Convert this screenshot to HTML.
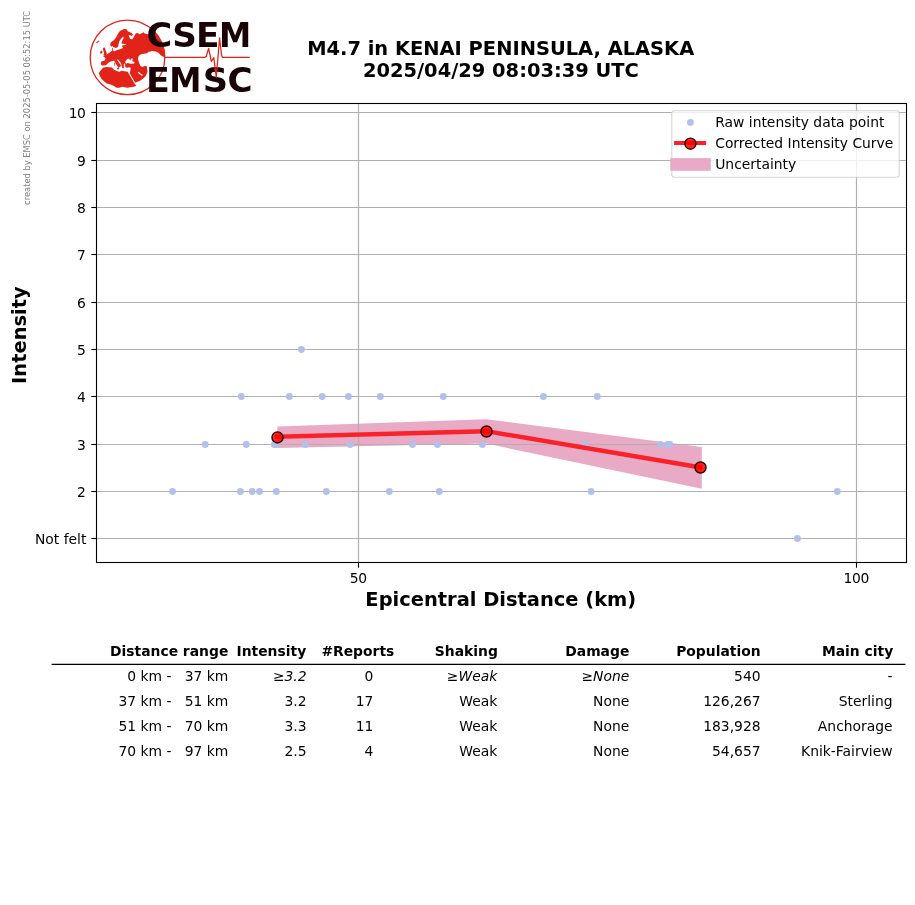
<!DOCTYPE html>
<html lang="en"><head><meta charset="utf-8"><title>M4.7 in KENAI PENINSULA, ALASKA</title>
<style>
html,body{margin:0;padding:0;background:#fff;}
body{width:915px;height:905px;overflow:hidden;}
svg{display:block;will-change:transform;}
text{font-family:"DejaVu Sans","Liberation Sans",sans-serif;fill:#000;}
.t{font-size:13.89px;white-space:pre;}
.b{font-weight:bold;}
.big{font-size:19.44px;font-weight:bold;}
.logo text{font-family:"DejaVu Sans","Liberation Sans",sans-serif;font-weight:bold;font-size:34.2px;fill:#1a0306;}
</style></head><body>
<svg width="915" height="905" viewBox="0 0 915 905">
<rect width="915" height="905" fill="#fff"/>

<polygon points="277.4,426.4 486.3,419.2 701.8,447.1 701.8,488.8 486.3,443.6 277.4,448.0" fill="#e8aac4"/>
<g stroke="#b0b0b0" stroke-width="1.2" fill="none">
<line x1="96.5" y1="538.5" x2="906.5" y2="538.5"/>
<line x1="96.5" y1="491.5" x2="906.5" y2="491.5"/>
<line x1="96.5" y1="444.5" x2="906.5" y2="444.5"/>
<line x1="96.5" y1="396.5" x2="906.5" y2="396.5"/>
<line x1="96.5" y1="349.5" x2="906.5" y2="349.5"/>
<line x1="96.5" y1="302.5" x2="906.5" y2="302.5"/>
<line x1="96.5" y1="254.5" x2="906.5" y2="254.5"/>
<line x1="96.5" y1="207.5" x2="906.5" y2="207.5"/>
<line x1="96.5" y1="160.5" x2="906.5" y2="160.5"/>
<line x1="96.5" y1="112.5" x2="906.5" y2="112.5"/>
<line x1="358.5" y1="103.5" x2="358.5" y2="562.5"/>
<line x1="856.5" y1="103.5" x2="856.5" y2="562.5"/>
</g>
<g fill="#b3c0ea">
<circle cx="301.4" cy="349.5" r="3.45"/>
<circle cx="241.3" cy="396.5" r="3.45"/>
<circle cx="289.4" cy="396.5" r="3.45"/>
<circle cx="322.2" cy="396.5" r="3.45"/>
<circle cx="348.4" cy="396.5" r="3.45"/>
<circle cx="380.3" cy="396.5" r="3.45"/>
<circle cx="443.3" cy="396.5" r="3.45"/>
<circle cx="543.4" cy="396.5" r="3.45"/>
<circle cx="597.3" cy="396.5" r="3.45"/>
<circle cx="205.2" cy="444.5" r="3.45"/>
<circle cx="246.3" cy="444.5" r="3.45"/>
<circle cx="274.4" cy="444.5" r="3.45"/>
<circle cx="276.0" cy="444.5" r="3.45"/>
<circle cx="305.4" cy="444.5" r="3.45"/>
<circle cx="350.2" cy="444.5" r="3.45"/>
<circle cx="412.5" cy="444.5" r="3.45"/>
<circle cx="437.4" cy="444.5" r="3.45"/>
<circle cx="482.4" cy="444.5" r="3.45"/>
<circle cx="585.2" cy="444.5" r="3.45"/>
<circle cx="660.4" cy="444.5" r="3.45"/>
<circle cx="667.6" cy="444.5" r="3.45"/>
<circle cx="669.9" cy="444.5" r="3.45"/>
<circle cx="172.5" cy="491.5" r="3.45"/>
<circle cx="240.4" cy="491.5" r="3.45"/>
<circle cx="252.2" cy="491.5" r="3.45"/>
<circle cx="259.5" cy="491.5" r="3.45"/>
<circle cx="276.3" cy="491.5" r="3.45"/>
<circle cx="326.3" cy="491.5" r="3.45"/>
<circle cx="389.3" cy="491.5" r="3.45"/>
<circle cx="439.3" cy="491.5" r="3.45"/>
<circle cx="591.1" cy="491.5" r="3.45"/>
<circle cx="837.3" cy="491.5" r="3.45"/>
<circle cx="797.4" cy="538.5" r="3.45"/>
</g>
<polyline points="277.4,436.7 486.4,431.2 700.4,467.4" fill="none" stroke="#fa2228" stroke-width="4.4" stroke-linejoin="round" stroke-linecap="square"/>
<g fill="#ff0000" fill-opacity="0.86" stroke="#260808" stroke-width="1.39">
<circle cx="277.5" cy="437.4" r="5.55"/>
<circle cx="486.5" cy="431.5" r="5.55"/>
<circle cx="700.5" cy="467.5" r="5.55"/>
</g>
<rect x="96.5" y="103.5" width="810.0" height="459.0" fill="none" stroke="#000" stroke-width="1.1"/>
<g stroke="#000" stroke-width="1.1">
<line x1="91.3" y1="538.5" x2="96.5" y2="538.5"/>
<line x1="91.3" y1="491.5" x2="96.5" y2="491.5"/>
<line x1="91.3" y1="444.5" x2="96.5" y2="444.5"/>
<line x1="91.3" y1="396.5" x2="96.5" y2="396.5"/>
<line x1="91.3" y1="349.5" x2="96.5" y2="349.5"/>
<line x1="91.3" y1="302.5" x2="96.5" y2="302.5"/>
<line x1="91.3" y1="254.5" x2="96.5" y2="254.5"/>
<line x1="91.3" y1="207.5" x2="96.5" y2="207.5"/>
<line x1="91.3" y1="160.5" x2="96.5" y2="160.5"/>
<line x1="91.3" y1="112.5" x2="96.5" y2="112.5"/>
<line x1="358.5" y1="562.5" x2="358.5" y2="567.7"/>
<line x1="856.5" y1="562.5" x2="856.5" y2="567.7"/>
</g>
<g class="t" text-anchor="end">
<text x="85.3" y="496.5" style="letter-spacing:-0.5px">2</text>
<text x="85.3" y="449.5" style="letter-spacing:-0.5px">3</text>
<text x="85.3" y="401.5" style="letter-spacing:-0.5px">4</text>
<text x="85.3" y="354.5" style="letter-spacing:-0.5px">5</text>
<text x="85.3" y="307.5" style="letter-spacing:-0.5px">6</text>
<text x="85.3" y="259.5" style="letter-spacing:-0.5px">7</text>
<text x="85.3" y="212.5" style="letter-spacing:-0.5px">8</text>
<text x="85.3" y="165.5" style="letter-spacing:-0.5px">9</text>
<text x="85.3" y="117.5" style="letter-spacing:-0.5px">10</text>
<text x="86.4" y="543.5">Not felt</text>
</g>
<g class="t" text-anchor="middle">
<text x="358.2" y="582.9" style="letter-spacing:-0.4px">50</text><text x="856.2" y="582.9" style="letter-spacing:-0.4px">100</text>
</g>
<text class="big" text-anchor="middle" x="500.8" y="606.3">Epicentral Distance (km)</text>
<text class="big" text-anchor="middle" transform="translate(26.3,335.1) rotate(-90)">Intensity</text>
<text class="big" text-anchor="middle" x="500.7" y="55.1">M4.7 in KENAI PENINSULA, ALASKA</text>
<text class="big" text-anchor="middle" x="500.9" y="77.2">2025/04/29 08:03:39 UTC</text>
<text transform="translate(29.9,204.9) rotate(-90)" style="font-size:8.33px;fill:#808080">created by EMSC on 2025-05-05 06:52:15 UTC</text>
<!--LEGEND-->
<rect x="671.8" y="110.8" width="227.4" height="66.4" rx="2.7" ry="2.7" fill="#fff" fill-opacity="0.8" stroke="#ccc" stroke-opacity="0.8" stroke-width="1.1"/>
<circle cx="690.4" cy="122.4" r="3.4" fill="#b3c0ea"/>
<line x1="674.1" y1="143.1" x2="706.1" y2="143.1" stroke="#fa2228" stroke-width="4"/>
<circle cx="690.4" cy="143.7" r="5.55" fill="#ff0000" fill-opacity="0.86" stroke="#260808" stroke-width="1.39"/>
<rect x="670.3" y="158.1" width="40.5" height="12.7" fill="#e8aac4"/>
<g class="t"><text x="715.2" y="127.2">Raw intensity data point</text><text x="715.2" y="148.2">Corrected Intensity Curve</text><text x="715.2" y="168.8">Uncertainty</text></g>
<!--TABLE-->
<line x1="51.6" y1="664.35" x2="905.5" y2="664.35" stroke="#000" stroke-width="1.3"/>
<g class="t b" text-anchor="end">
<text x="228.3" y="656.2">Distance range</text>
<text x="306.2" y="656.2">Intensity</text>
<text x="394.3" y="656.2">#Reports</text>
<text x="497.9" y="656.2">Shaking</text>
<text x="629.3" y="656.2">Damage</text>
<text x="760.6" y="656.2">Population</text>
<text x="893.2" y="656.2">Main city</text>
</g>
<g class="t" text-anchor="end">
<text x="228.3" y="681.0">0 km -   37 km</text>
<text x="306.6" y="681.0"><tspan>≥</tspan><tspan font-style="italic">3.2</tspan></text>
<text x="373.4" y="681.0">0</text>
<text x="497.3" y="681.0"><tspan>≥</tspan><tspan font-style="italic">Weak</tspan></text>
<text x="629.3" y="681.0"><tspan>≥</tspan><tspan font-style="italic">None</tspan></text>
<text x="760.6" y="681.0">540</text>
<text x="892.6" y="681.0">-</text>
<text x="228.3" y="706.0">37 km -   51 km</text>
<text x="306.6" y="706.0">3.2</text>
<text x="373.4" y="706.0">17</text>
<text x="497.3" y="706.0">Weak</text>
<text x="629.3" y="706.0">None</text>
<text x="760.6" y="706.0">126,267</text>
<text x="892.6" y="706.0">Sterling</text>
<text x="228.3" y="731.0">51 km -   70 km</text>
<text x="306.6" y="731.0">3.3</text>
<text x="373.4" y="731.0">11</text>
<text x="497.3" y="731.0">Weak</text>
<text x="629.3" y="731.0">None</text>
<text x="760.6" y="731.0">183,928</text>
<text x="892.6" y="731.0">Anchorage</text>
<text x="228.3" y="756.0">70 km -   97 km</text>
<text x="306.6" y="756.0">2.5</text>
<text x="373.4" y="756.0">4</text>
<text x="497.3" y="756.0">Weak</text>
<text x="629.3" y="756.0">None</text>
<text x="760.6" y="756.0">54,657</text>
<text x="892.6" y="756.0">Knik-Fairview</text>
</g>
<g id="logo">
<defs><clipPath id="globe"><circle cx="127.5" cy="57.4" r="37.3"/></clipPath></defs>
<g clip-path="url(#globe)" fill="#e2231a" stroke="none">
<!-- Eurasia -->
<path d="M123.9,28.9 L126.5,29.3 127.8,31.2 131.7,32.9 133,34.5 131.9,35.9 129.5,35 128.7,35.6 130.2,38.9 132.4,39.2 134.3,36.1 135.7,33.5 137.6,32.9 139.6,34.2 143.5,32.2 144.8,33.5 147.5,34.2 152,35 157,32 167,44 167,57 163.2,56.8 160.7,55.3 158.8,52.9 155.8,51.4 152,50.9 148.4,51.9 147,53.3 144,53.8 140.5,54.6 138.6,56 138,59 138.8,62 140.3,65.7 142.2,67.1 144.8,66.1 146.8,66.3 147.5,71.7 146.8,73.6 145.5,76.3 143.5,78.2 139.6,80.9 135,82.8 134.6,81.8 129.7,73.3 130.4,70.4 130.7,67.7 129.5,67.3 127,67.8 125.3,67.2 125.1,64.2 124.3,63.4 123.8,64 123.9,68 122.6,68.6 121.6,66 121.2,63.8 119.6,61.2 117.7,59.2 117.1,59.4 118.3,61.8 120.4,64.6 121.1,66.3 119.5,66.8 118.8,68 117.6,66.6 115.6,63.4 114.2,60.4 112.7,61 110.7,61.4 108.4,62.8 107,64.3 105.6,65.2 102.2,65.5 100.9,64.5 100.9,61.8 101.6,61.4 104.8,60.5 105.5,58.6 104.9,57.5 103.3,56.6 103.6,55.8 106.8,54.6 109,53 111.4,51.2 112.2,50.8 112.3,48 113,48 113.2,51 114.7,51.2 116.6,50.3 120.6,49 122.5,48.3 123.2,47.3 121.9,46.6 122.5,45.3 125.8,45 125.8,44.3 121.4,43.5 122.2,40.7 123.7,38.1 123.3,36.7 122.9,36.8 120.8,39.1 119.2,41.4 118.6,44 118.3,46.3 117.2,47.6 115.3,48 114.3,47.2 113.7,47.6 112.7,46.3 111.1,46.6 110.1,44.7 110.7,42.4 114,40.1 116,37.5 117.6,34.2 119.9,30.9 Z"/>
<!-- Africa -->
<path d="M102.9,67.7 L106.8,67.1 112,67.4 114,69.7 117.3,71.3 119.9,71.7 121.2,70.7 124.5,71.3 127.8,71.7 128.6,73.4 134,82.6 134.3,83.5 136.3,85.4 135,86.4 131.7,87.1 127.1,87.7 122.5,86.8 119.3,87.7 116.6,87.7 114,86.1 110.7,84.5 106.8,83.5 104.2,81.5 101.6,78.9 99.9,76.3 98.9,73.6 99.6,71.7 101.5,69.5 Z"/>
<!-- Great Britain, Ireland, Iceland, Sicily -->
<path d="M102.9,48 L104.8,47.6 105.5,49.9 106.5,52.5 107.1,54.2 104.8,55.5 103.2,55.2 104.2,53.2 103.5,51.2 Z"/>
<path d="M100.3,51.4 L102,50.6 102.6,52.6 101.2,53.8 100,53 Z"/>
<path d="M96,42.6 L98.8,40.6 99.5,41.3 96.8,43.3 Z"/>
<path d="M116.6,68 L119.2,67.6 118.9,69.2 117.4,69.3 Z"/>
<path d="M114.1,62.8 L114.8,62.8 114.9,65.6 114.2,65.6 Z"/>
<!-- Black Sea -->
<path fill="#fff" d="M125.2,61.8 L127.1,58.9 129.1,58.6 130.1,60.5 131.4,58.6 132.7,58.6 132.4,60.9 134.7,62.2 134.3,63.5 130.4,63.8 127.8,63.1 125.8,63.8 Z"/>
<!-- Persian Gulf -->
<path fill="none" stroke="#fff" stroke-width="1.3" d="M138.3,72 Q139.5,74.3 142.5,75.3"/>
</g>
<circle cx="127.5" cy="57.4" r="37.3" fill="none" stroke="#e2231a" stroke-width="1.3"/>
<g class="logo">
<title>CSEM EMSC</title>
<text y="46.9"><tspan x="146.55" textLength="25.80" lengthAdjust="spacingAndGlyphs">C</tspan><tspan x="172.2" textLength="24.63" lengthAdjust="spacingAndGlyphs">S</tspan><tspan x="195.9" textLength="23.50" lengthAdjust="spacingAndGlyphs">E</tspan><tspan x="219.1" textLength="32.19" lengthAdjust="spacingAndGlyphs">M</tspan></text>
<text y="92.2"><tspan x="146.0" textLength="23.90" lengthAdjust="spacingAndGlyphs">E</tspan><tspan x="169.2" textLength="32.19" lengthAdjust="spacingAndGlyphs">M</tspan><tspan x="202.75" textLength="25.37" lengthAdjust="spacingAndGlyphs">S</tspan><tspan x="227.4" textLength="25.10" lengthAdjust="spacingAndGlyphs">C</tspan></text>
</g>
<polyline fill="none" stroke="#e2231a" stroke-width="1.25" stroke-linejoin="round" points="164.8,57.4 204.8,57.4 206.2,56.5 208.6,48.4 211.4,61.5 213.8,57.7 216.3,77.4 219.6,37.8 221.6,55.5 222.6,57.4 249.8,57.4"/>
</g>

</svg></body></html>
